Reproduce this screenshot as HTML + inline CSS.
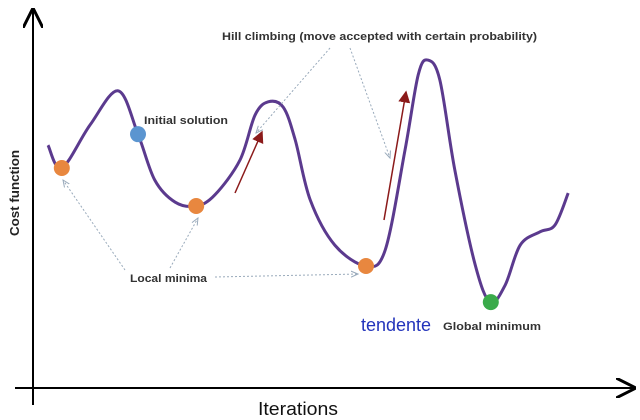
<!DOCTYPE html>
<html><head><meta charset="utf-8"><style>
body{margin:0;background:#fff;}
svg{display:block;font-family:"Liberation Sans",sans-serif;}
</style></head><body>
<svg id="chart" width="640" height="420" viewBox="0 0 640 420">
<defs>
<marker id="ah" markerWidth="10" markerHeight="10" refX="9" refY="5" orient="auto"><path d="M0,0 L10,5 L0,10" fill="none" stroke="#000" stroke-width="1.5"/></marker>
<marker id="dh" markerWidth="8" markerHeight="8" refX="7" refY="4" orient="auto"><path d="M0,1 L7,4 L0,7" fill="none" stroke="#9ab" stroke-width="1"/></marker>
<marker id="rh" markerWidth="8" markerHeight="8" refX="7" refY="4" orient="auto"><path d="M0,0 L8,4 L0,8 z" fill="#8b1a1a"/></marker>
</defs>
<line x1="33" y1="405" x2="33" y2="10" stroke="#000" stroke-width="2" marker-end="url(#ah)"/>
<line x1="15" y1="388" x2="634" y2="388" stroke="#000" stroke-width="2" marker-end="url(#ah)"/>
<text transform="translate(19,193) rotate(-90)" text-anchor="middle" font-size="13" font-weight="bold" fill="#222" textLength="86" lengthAdjust="spacingAndGlyphs">Cost function</text>
<text x="258" y="415" font-size="18" fill="#111" textLength="80" lengthAdjust="spacingAndGlyphs">Iterations</text>
<g id="annot">
<line x1="330" y1="48" x2="256" y2="133" stroke="#9ab" stroke-dasharray="2,2" marker-end="url(#dh)"/>
<line x1="350" y1="48" x2="390" y2="158" stroke="#9ab" stroke-dasharray="2,2" marker-end="url(#dh)"/>
<line x1="125" y1="270" x2="63" y2="180" stroke="#9ab" stroke-dasharray="2,2" marker-end="url(#dh)"/>
<line x1="170" y1="268" x2="198" y2="218" stroke="#9ab" stroke-dasharray="2,2" marker-end="url(#dh)"/>
<line x1="215" y1="277" x2="358" y2="274" stroke="#9ab" stroke-dasharray="2,2" marker-end="url(#dh)"/>
<line x1="235" y1="193" x2="262" y2="132" stroke="#8b1a1a" stroke-width="1.5" marker-end="url(#rh)"/>
<line x1="384" y1="220" x2="406" y2="92" stroke="#8b1a1a" stroke-width="1.5" marker-end="url(#rh)"/>
</g>
<text x="222" y="40" font-size="11" font-weight="bold" fill="#333" textLength="315" lengthAdjust="spacingAndGlyphs">Hill climbing (move accepted with certain probability)</text>
<text x="144" y="124" font-size="11" font-weight="bold" fill="#333" textLength="84" lengthAdjust="spacingAndGlyphs">Initial solution</text>
<text x="130" y="282" font-size="11" font-weight="bold" fill="#333" textLength="77" lengthAdjust="spacingAndGlyphs">Local minima</text>
<text x="361" y="331" font-size="18" fill="#2233bb" textLength="70" lengthAdjust="spacingAndGlyphs">tendente</text>
<text x="443" y="330" font-size="11" font-weight="bold" fill="#333" textLength="98" lengthAdjust="spacingAndGlyphs">Global minimum</text>
</svg>
<script>
const iterations=[2.5,4.8,9.5,14.2,17.5,20.3,23.7,27.2,30.3,34.5,37,39.2,41.7,43.7,46.2,50.3,55.5,58.7,62,64.2,65.8,67.8,70.3,73.7,76.2,78.7,81.2,84.5,87,89.2];
const cost=[63.9,57.9,69.2,78.2,66.8,54.7,48.9,47.9,50.8,60,71.8,75.3,73.9,65.3,49.5,37.6,32.1,36.3,62.6,82.4,86.3,81.1,57.4,32.4,22.6,27.1,37.6,41.1,42.9,51.3];
const markerX=[4.8,17.5,27.2,55.5,76.3];
const markerY=[57.9,66.8,47.9,32.1,22.6];
const markerKind=["local","initial","local","local","global"];
const colors={local:"#e8873f",initial:"#5b95d0",global:"#3aaa4a"};
function xs(v){return 33+v*6;}
function ys(v){return 388-v*3.8;}
const svg=document.getElementById('chart');
const NS="http://www.w3.org/2000/svg";
const P=iterations.map((x,i)=>[xs(x),ys(cost[i])]);
let d="M"+P[0][0]+","+P[0][1];
for(let i=0;i<P.length-1;i++){
 const p0=P[Math.max(0,i-1)],p1=P[i],p2=P[i+1],p3=P[Math.min(P.length-1,i+2)];
 const c1=[p1[0]+(p2[0]-p0[0])/6,p1[1]+(p2[1]-p0[1])/6];
 const c2=[p2[0]-(p3[0]-p1[0])/6,p2[1]-(p3[1]-p1[1])/6];
 d+=` C${c1[0]},${c1[1]} ${c2[0]},${c2[1]} ${p2[0]},${p2[1]}`;
}
const path=document.createElementNS(NS,'path');
path.setAttribute('d',d);path.setAttribute('fill','none');path.setAttribute('stroke','#5b3a8e');path.setAttribute('stroke-width','3');


svg.insertBefore(path,document.getElementById('annot'));
markerX.forEach((x,i)=>{
 const c=document.createElementNS(NS,'circle');
 c.setAttribute('cx',xs(x));c.setAttribute('cy',ys(markerY[i]));c.setAttribute('r',8);c.setAttribute('fill',colors[markerKind[i]]);
 
 
 svg.appendChild(c);
});
</script>
</body></html>
